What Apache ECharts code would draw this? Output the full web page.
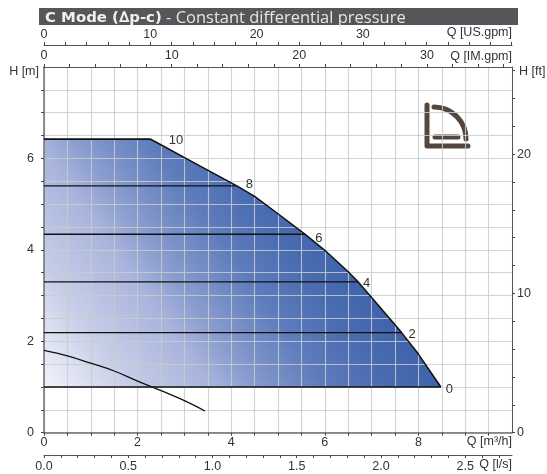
<!DOCTYPE html>
<html><head><meta charset="utf-8">
<style>html,body{margin:0;padding:0;background:#fff}#c{width:547px;height:474px}</style>
<script src="https://cdn.jsdelivr.net/npm/echarts@6/dist/echarts.min.js"></script>
</head><body><div id="c"></div>
<script>
const envelope = [[0,6.42],[2.28,6.42],[3.2,5.91],[4.12,5.40],[4.5,5.17],[5,4.79],[5.58,4.34],[6,3.99],[6.5,3.52],[6.71,3.30],[7,2.96],[7.5,2.36],[7.64,2.19],[8,1.72],[8.48,1.0]];
const levels = [
  {name:'10',H:6.42,Q:2.28},{name:'8',H:5.40,Q:4.12},{name:'6',H:4.34,Q:5.58},
  {name:'4',H:3.30,Q:6.71},{name:'2',H:2.19,Q:7.64},{name:'0',H:1.0,Q:8.48}
];
const labelOffsets = {'10':[10,1],'8':[1,-1],'6':[2,4],'4':[-3,2],'2':[-1,2],'0':[-3,2]};
const pumpCurve = [[0,1.8],[0.5,1.68],[1,1.52],[1.5,1.35],[2,1.13],[2.5,0.92],[3,0.70],[3.44,0.475]];

const qMaxM3h = 10, qMaxLs = 2.778, qMaxIm = 36.66, qMaxUs = 44.03, hMaxM = 8, hMaxFt = 26.25;
const FONT = '"Liberation Sans",Arial,sans-serif';
const txt = '#333';
const gridCol = 'rgba(200,204,206,0.85)';

function xAx(o){
  return Object.assign({type:'value',min:0,
    axisLine:{show:true,onZero:false,lineStyle:{color:'#555',width:1}},
    axisTick:{show:true,length:3,lineStyle:{color:'#444',width:1}},
    minorTick:{show:false},splitLine:{show:false},z:2},o);
}
function every(step,dec,top){
  return v => (Math.abs(v/step-Math.round(v/step))<1e-6 && (top===undefined||v<=top)) ? (dec?v.toFixed(dec):String(v)) : '';
}
const lbl = (fmt,margin,pad)=>({color:txt,fontFamily:FONT,fontSize:12.5,margin,formatter:fmt,showMaxLabel:false,hideOverlap:false,padding:pad||0});

const series = [
  {type:'line',name:'area',data:envelope,showSymbol:false,silent:true,z:1,
   lineStyle:{width:0},
   areaStyle:{origin:1,opacity:1,color:new echarts.graphic.LinearGradient(0,1,0.67,0.24,[
     {offset:0,color:'#f2f4fa'},{offset:0.22,color:'#c6cde7'},{offset:0.42,color:'#a8b4dc'},
     {offset:0.52,color:'#8a9dce'},{offset:0.7,color:'#5f7dbd'},{offset:0.85,color:'#4a6cb1'},{offset:1,color:'#3f63ab'}])}},
  {type:'line',name:'envelope',data:envelope,showSymbol:false,silent:true,z:3,
   lineStyle:{color:'#111',width:1.5}},
  {type:'line',name:'pump',data:pumpCurve,showSymbol:false,silent:true,z:3,smooth:0.4,
   lineStyle:{color:'#111',width:1.3}}
];
levels.forEach(l=>{
  series.push({type:'line',name:l.name,data:[[0,l.H],[l.Q,l.H]],showSymbol:false,silent:true,z:3,
    lineStyle:{color:'#111',width:1.4},
    endLabel:{show:true,formatter:l.name,color:txt,fontFamily:FONT,fontSize:13,offset:labelOffsets[l.name]}});
});

const nameText = (t,x,y,align)=>({type:'text',x,y,z:10,style:{text:t,fill:txt,font:'12.5px '+FONT,textAlign:align,textVerticalAlign:'middle'}});
const iconStyle = {stroke:'#54463d',lineWidth:5,lineCap:'round',lineJoin:'round',fill:null};

const chart = echarts.init(document.getElementById('c'),null,{renderer:'canvas'});
chart.setOption({
  animation:false,backgroundColor:'#fff',
  grid:{left:44,right:35,top:67,height:365.7},
  title:{show:true,left:45,top:10,padding:0,
    text:'{a|C Mode (∆p-c)}{b| - Constant differential pressure}',
    textStyle:{fontWeight:'normal',rich:{a:{fontFamily:'"DejaVu Sans"',fontWeight:'bold',fontSize:14.9,color:'#f0f0f0'},
                     b:{fontFamily:'"Open Sans"',fontWeight:'normal',fontSize:16.5,color:'#e6e6e6'}}}},
  xAxis:[
    xAx({position:'bottom',max:qMaxM3h,interval:0.5,axisLabel:lbl(every(2),3),
      axisLine:{show:true,onZero:false,lineStyle:{color:'#6e6e6e',width:1.5}},
      splitLine:{show:true,lineStyle:{color:gridCol,width:1.1}}}),
    xAx({position:'bottom',offset:22.3,max:qMaxLs,interval:0.1,axisLabel:lbl(every(0.5,1),5)}),
    xAx({position:'top',max:qMaxIm,interval:2,axisLabel:lbl(every(10,0,30),5)}),
    xAx({position:'top',offset:22,max:qMaxUs,interval:2,axisLabel:lbl(every(10,0,30),4)})
  ],
  yAxis:[
    {type:'value',position:'left',min:0,max:hMaxM,interval:0.5,z:2,
     axisLine:{show:true,onZero:false,lineStyle:{color:'#6e6e6e',width:1.5}},
     axisTick:{show:true,length:3,lineStyle:{color:'#444'}},
     axisLabel:lbl(every(2),10,[0,0,3,0]),
     splitLine:{show:true,lineStyle:{color:gridCol,width:1.1}}},
    {type:'value',position:'right',min:0,max:hMaxFt,interval:2,z:2,
     axisLine:{show:true,onZero:false,lineStyle:{color:'#555',width:1}},
     axisTick:{show:true,length:3,lineStyle:{color:'#444'}},
     axisLabel:lbl(every(10),5,[0,0,3,0]),
     splitLine:{show:false}}
  ],
  series,
  graphic:[
    {type:'rect',z:-1,shape:{x:39,y:8,width:479,height:17},style:{fill:'#54565a'}},
    nameText('Q [US.gpm]',512,33,'right'),
    nameText('Q [IM.gpm]',512,57,'right'),
    nameText('H [m]',39,72,'right'),
    nameText('H [ft]',519,72,'left'),
    nameText('Q [m³/h]',512,442,'right'),
    nameText('Q [l/s]',512,465,'right'),
    {type:'group',z:10,children:[
      {type:'polyline',shape:{points:[[427,105],[427,146],[468,146]]},style:iconStyle},
      {type:'arc',shape:{cx:434,cy:139,r:32,startAngle:-Math.PI/2,endAngle:0,clockwise:true},style:iconStyle},
      {type:'line',shape:{x1:435,y1:137,x2:458,y2:137},style:iconStyle}
    ]}
  ]
});
</script></body></html>
